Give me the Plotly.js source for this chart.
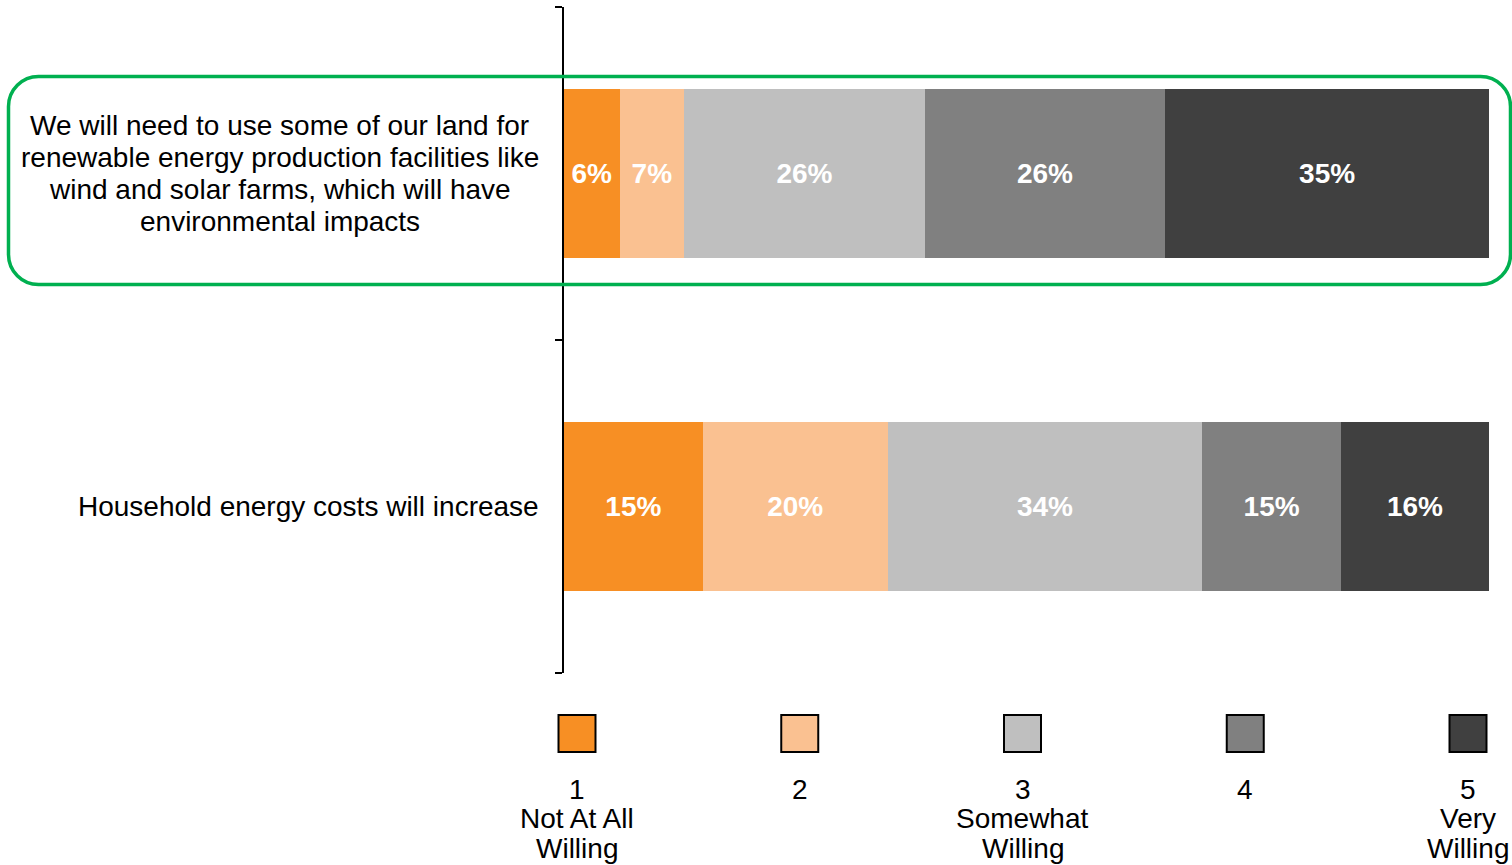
<!DOCTYPE html>
<html>
<head>
<meta charset="utf-8">
<script src="https://cdn.plot.ly/plotly-3.0.1.min.js"></script>
<style>html,body{margin:0;padding:0;background:#fff;}#chart{width:1512px;height:865px;}</style>
</head>
<body>
<div id="chart"></div>
<script>
// ---- data ----
const categories = [
  "We will need to use some of our land for<br>renewable energy production facilities like<br>wind and solar farms, which will have<br>environmental impacts",
  "Household energy costs will increase"
];
const levelLabels = ["1<br>Not At All<br>Willing", "2", "3<br>Somewhat<br>Willing", "4", "5<br>Very<br>Willing"];
const notAtAllWilling = [6, 15];
const level2 = [7, 20];
const somewhatWilling = [26, 34];
const level4 = [26, 15];
const veryWilling = [35, 16];
const seriesValues = [notAtAllWilling, level2, somewhatWilling, level4, veryWilling];
const colors = ["#F78F24", "#FAC191", "#BFBFBF", "#808080", "#404040"];

// ---- layout constants ----
const W = 1512, H = 865;
const FONT = '"Liberation Sans", Arial, sans-serif';
const plotL = 564, plotR = 1489, plotT = 7, plotB = 673;
const px2paperX = p => p / W;
const px2paperY = p => 1 - p / H;

function measure(text, size, weight) {
  const c = document.createElement('canvas').getContext('2d');
  c.font = (weight || 'normal') + ' ' + size + 'px "Liberation Sans", Arial, sans-serif';
  return c.measureText(text).width;
}

const traces = [];
seriesValues.forEach((vals, i) => {
  traces.push({
    type: 'bar', orientation: 'h',
    x: vals, y: categories,
    name: levelLabels[i].replace(/<br>/g, ' '),
    marker: {color: colors[i], line: {width: 0}},
    width: 0.51,
    text: vals.map(v => v + '%'),
    texttemplate: '<b>%{text}</b>',
    textposition: 'inside', insidetextanchor: 'middle',
    constraintext: 'none',
    textfont: {color: '#FFFFFF', size: 28, family: FONT},
    hoverinfo: 'skip', showlegend: false,
    xaxis: 'x', yaxis: 'y'
  });
});

// legend swatches as a marker trace on a helper axis
traces.push({
  type: 'scatter', mode: 'markers',
  x: levelLabels.map((_, i) => i), y: levelLabels.map(() => 0),
  marker: {symbol: 'square', size: 37, color: colors, line: {color: '#000', width: 2}},
  xaxis: 'x2', yaxis: 'y2', hoverinfo: 'skip', showlegend: false
});

const annotations = [];
// category labels (one annotation per line, tight spacing)
const lineGap = 32;
categories.forEach((cat, ci) => {
  const lines = cat.split('<br>');
  const blockW = Math.max(...lines.map(l => measure(l, 28)));
  const centerPx = (plotL - 25) - blockW / 2;
  lines.forEach((ln, li) => {
    const off = (li - (lines.length - 1) / 2) * lineGap;
    annotations.push({
      xref: 'paper', yref: 'y', x: px2paperX(centerPx), y: cat,
      xanchor: 'center', yanchor: 'middle', yshift: -off,
      text: ln, showarrow: false, font: {size: 28, color: '#000', family: FONT}
    });
  });
});
// legend labels
const legendShifts = [-55.5, -85, -114.5];
levelLabels.forEach((lab, i) => {
  lab.split('<br>').forEach((ln, li) => {
    annotations.push({
      xref: 'x2', yref: 'y2', x: i, y: 0,
      xanchor: 'center', yanchor: 'middle', yshift: legendShifts[li],
      text: ln, showarrow: false, font: {size: 28, color: '#000', family: FONT}
    });
  });
});

// rounded highlight box
function roundedRect(x0, y0, x1, y1, r) {
  const k = 0.5523 * r;
  const X = p => px2paperX(p).toFixed(5), Y = p => px2paperY(p).toFixed(5);
  return `M ${X(x0 + r)} ${Y(y0)} L ${X(x1 - r)} ${Y(y0)} ` +
    `C ${X(x1 - r + k)} ${Y(y0)} ${X(x1)} ${Y(y0 + r - k)} ${X(x1)} ${Y(y0 + r)} ` +
    `L ${X(x1)} ${Y(y1 - r)} ` +
    `C ${X(x1)} ${Y(y1 - r + k)} ${X(x1 - r + k)} ${Y(y1)} ${X(x1 - r)} ${Y(y1)} ` +
    `L ${X(x0 + r)} ${Y(y1)} ` +
    `C ${X(x0 + r - k)} ${Y(y1)} ${X(x0)} ${Y(y1 - r + k)} ${X(x0)} ${Y(y1 - r)} ` +
    `L ${X(x0)} ${Y(y0 + r)} ` +
    `C ${X(x0)} ${Y(y0 + r - k)} ${X(x0 + r - k)} ${Y(y0)} ${X(x0 + r)} ${Y(y0)} Z`;
}

// category boundaries for the axis ticks
const boundaries = [-0.5].concat(categories.map((_, i) => i + 0.5));

const legendStep = 222.75, legendStart = 577;
const layout = {
  width: W, height: H, autosize: false,
  margin: {l: 0, r: 0, t: 0, b: 0, pad: 0},
  paper_bgcolor: '#fff', plot_bgcolor: 'rgba(0,0,0,0)',
  barmode: 'stack', showlegend: false,
  font: {family: FONT, size: 28, color: '#000'},
  xaxis: {domain: [plotL / W, plotR / W], range: [0, 100], visible: false, fixedrange: true},
  yaxis: {
    domain: [1 - plotB / H, 1 - plotT / H], type: 'category', range: [1.5, -0.5],
    showline: true, linecolor: '#000', linewidth: 2,
    tickmode: 'array', tickvals: boundaries, ticktext: boundaries.map(() => ''),
    ticks: 'outside', ticklen: 7, tickwidth: 2, tickcolor: '#000',
    showticklabels: false, showgrid: false, zeroline: false, fixedrange: true
  },
  xaxis2: {domain: [0, 1], anchor: 'y2', range: [-legendStart / legendStep, (W - legendStart) / legendStep], visible: false, fixedrange: true},
  yaxis2: {domain: [px2paperY(733.5) - 0.03, px2paperY(733.5) + 0.03], anchor: 'x2', range: [-1, 1], visible: false, fixedrange: true},
  annotations: annotations,
  shapes: [{
    type: 'path', xref: 'paper', yref: 'paper', layer: 'above',
    path: roundedRect(8.5, 76.5, 1510.5, 284.5, 30),
    line: {color: '#00B050', width: 3.5}, fillcolor: 'rgba(0,0,0,0)'
  }]
};

Plotly.newPlot('chart', traces, layout, {displayModeBar: false, staticPlot: true});
</script>
</body>
</html>
